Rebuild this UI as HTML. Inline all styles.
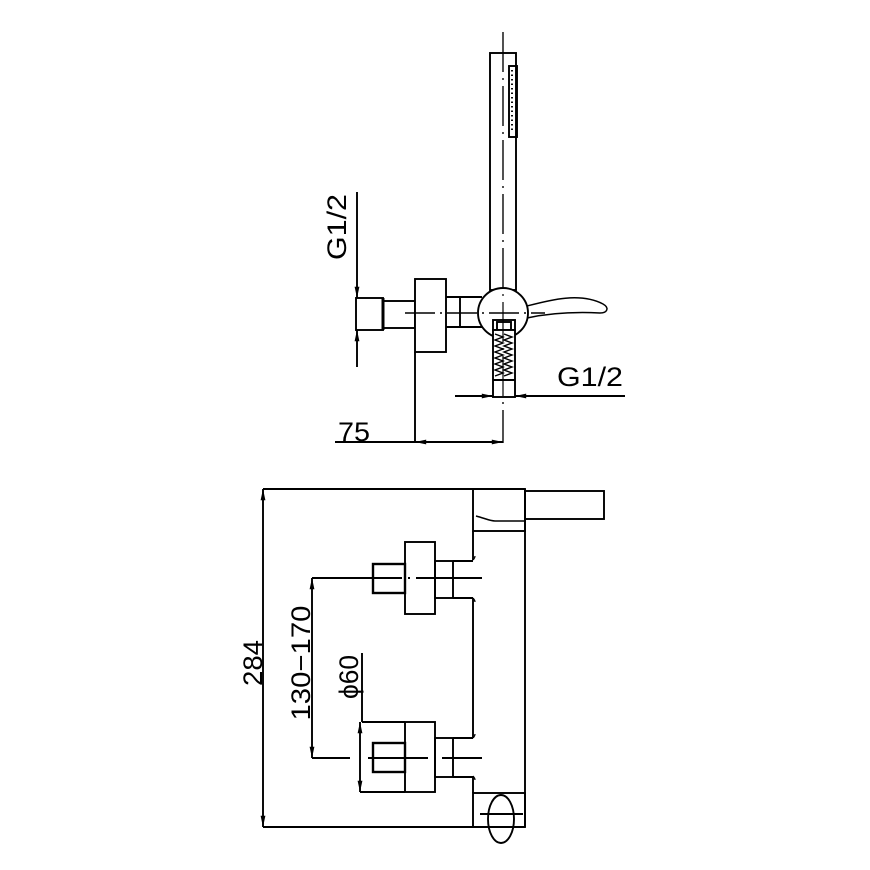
<!DOCTYPE html>
<html><head><meta charset="utf-8"><style>
html,body{margin:0;padding:0;background:#fff;}
svg{display:block;}
text{font-family:"Liberation Sans",sans-serif;fill:#000;}
</style></head><body>
<svg width="870" height="870" viewBox="0 0 870 870" xmlns="http://www.w3.org/2000/svg">
<defs>
<marker id="a" viewBox="0 0 14 10" refX="14" refY="5" markerWidth="14" markerHeight="8" orient="auto-start-reverse" markerUnits="userSpaceOnUse"><path d="M0,2 L14,5 L0,8 Z" fill="#000"/></marker>
</defs>
<g stroke="#000" stroke-width="1.9" fill="none">
<!-- TOP VIEW -->
<rect x="490" y="53" width="26" height="237" fill="#fff"/>
<line x1="503" y1="32" x2="503" y2="443" stroke-dasharray="40,6,2,6" stroke-width="1.2"/>
<rect x="509" y="66" width="8" height="71"/>
<line x1="512" y1="70" x2="512" y2="133" stroke-dasharray="1.5,3"/>
<rect x="356" y="298" width="27" height="32"/>
<line x1="383" y1="298" x2="383" y2="330" stroke-width="3"/>
<rect x="383" y="301" width="32" height="27"/>
<rect x="415" y="279" width="31" height="73" fill="#fff"/>
<path d="M446 297 H482 M446 327 H482"/>
<line x1="460" y1="297" x2="460" y2="327"/>
<circle cx="503" cy="313" r="25" fill="#fff"/>
<path d="M527 306 C550 300 580 292 603 304 C610 308 607 313 600 313 C580 312 555 312 527 318" stroke-width="1.5"/>
<rect x="493" y="320" width="22" height="10"/>
<rect x="497" y="322" width="14" height="8"/>
<rect x="493" y="330" width="22" height="67" fill="#fff"/>
<path d="M495 334 L503 337 L495 340 L503 343 L495 346 L503 349 L495 352 L503 355 L495 358 L503 361 L495 364 L503 367 L495 370 L503 373 L495 376 M504 334 L512 337 L504 340 L512 343 L504 346 L512 349 L504 352 L512 355 L504 358 L512 361 L504 364 L512 367 L504 370 L512 373 L504 376" stroke-width="1.4"/>
<line x1="493" y1="380" x2="515" y2="380"/>
<line x1="405" y1="313" x2="545" y2="313" stroke-dasharray="30,5,2,5" stroke-width="1.4"/>
<line x1="503" y1="32" x2="503" y2="443" stroke-dasharray="40,6,2,6" stroke-width="1.2"/>
<line x1="357" y1="192" x2="357" y2="298" marker-end="url(#a)"/>
<line x1="357" y1="367" x2="357" y2="330" marker-end="url(#a)"/>
<line x1="455" y1="396" x2="493" y2="396" marker-end="url(#a)"/>
<line x1="625" y1="396" x2="515" y2="396" marker-end="url(#a)"/>
<line x1="415" y1="352" x2="415" y2="443"/>
<line x1="335" y1="442" x2="415" y2="442"/>
<line x1="415" y1="442" x2="503" y2="442" marker-start="url(#a)" marker-end="url(#a)"/>

<!-- BOTTOM VIEW -->
<line x1="263" y1="489" x2="525" y2="489"/>
<line x1="263" y1="827" x2="525" y2="827"/>
<line x1="525" y1="489" x2="525" y2="827"/>
<rect x="473" y="489" width="52" height="42"/>
<path d="M476 516 C484 518 490 521 495 521 H525" stroke-width="1.5"/>
<rect x="525" y="491" width="79" height="28"/>
<path d="M473 531 V560 M473 598 V738 M473 776 V793"/>
<path d="M473 560 q2 -2 2 -4 M473 598 q2 2 2 4 M473 738 q2 -2 2 -4 M473 776 q2 2 2 4" stroke-width="1.2"/>
<rect x="473" y="793" width="52" height="34"/>
<ellipse cx="501" cy="819" rx="13" ry="24"/>
<line x1="480" y1="814" x2="523" y2="814"/>
<rect x="405" y="542" width="30" height="72"/>
<rect x="373" y="564" width="32" height="29" stroke-width="2.4"/>
<rect x="435" y="561" width="18" height="37"/>
<path d="M453 561 H473 M453 598 H473"/>
<line x1="312" y1="578" x2="482" y2="578" stroke-dasharray="90,6,2,6"/>
<rect x="405" y="722" width="30" height="70"/>
<rect x="373" y="743" width="32" height="29" stroke-width="2.4"/>
<rect x="435" y="738" width="18" height="39"/>
<path d="M453 738 H473 M453 777 H473"/>
<path d="M312 758 H350 M368 758 H482" stroke-dasharray="60,6,2,6"/>
<path d="M362 722 H405 M360 792 H405 M362 653 V722"/>
<line x1="360" y1="757" x2="360" y2="722" marker-end="url(#a)"/>
<line x1="360" y1="757" x2="360" y2="792" marker-end="url(#a)"/>
<line x1="312" y1="668" x2="312" y2="578" marker-end="url(#a)"/>
<line x1="312" y1="668" x2="312" y2="758" marker-end="url(#a)"/>
<line x1="263" y1="658" x2="263" y2="489" marker-end="url(#a)"/>
<line x1="263" y1="658" x2="263" y2="827" marker-end="url(#a)"/>
</g>
<g font-size="27">
<text transform="translate(346,227) rotate(-90)" text-anchor="middle" textLength="66" lengthAdjust="spacingAndGlyphs">G1/2</text>
<text x="590" y="386" text-anchor="middle" textLength="66" lengthAdjust="spacingAndGlyphs">G1/2</text>
<text x="354" y="441" text-anchor="middle" textLength="32" lengthAdjust="spacingAndGlyphs">75</text>
<text transform="translate(262,663) rotate(-90)" text-anchor="middle" textLength="46" lengthAdjust="spacingAndGlyphs">284</text>
<text transform="translate(310,663) rotate(-90)" text-anchor="middle" textLength="115" lengthAdjust="spacingAndGlyphs">130−170</text>
<text transform="translate(358,677) rotate(-90)" text-anchor="middle" textLength="44" lengthAdjust="spacingAndGlyphs">ϕ60</text>
</g>
</svg>
</body></html>
